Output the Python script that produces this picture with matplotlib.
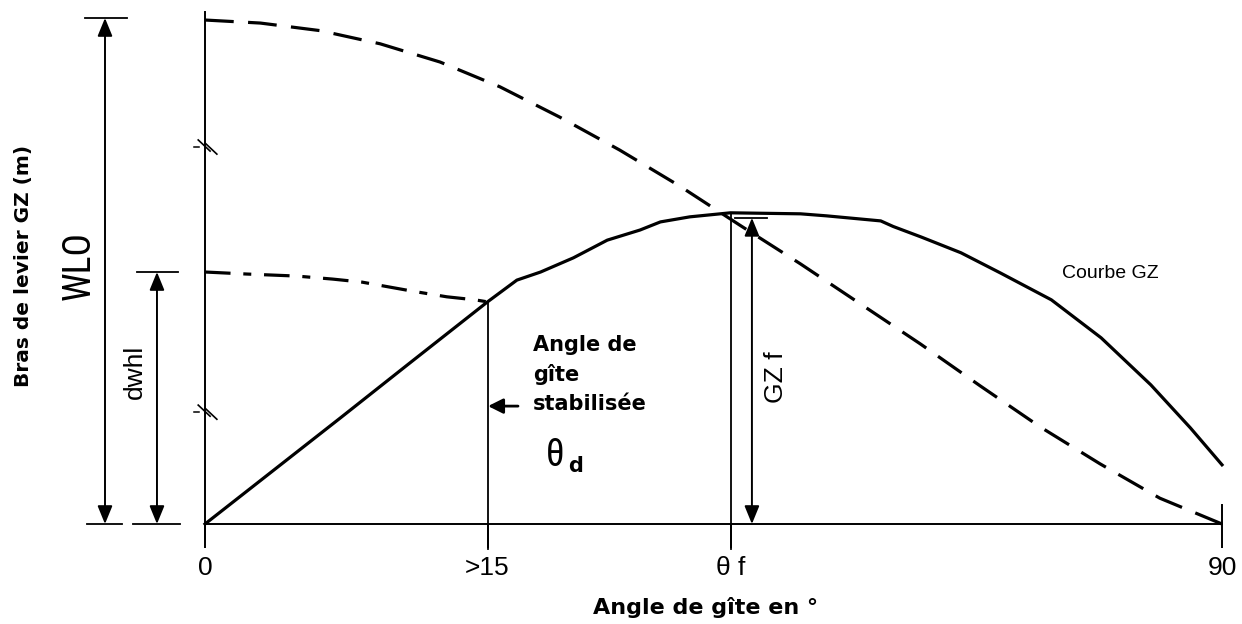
import matplotlib
matplotlib.use("Agg")
import matplotlib.pyplot as plt
from matplotlib import font_manager

# ---------------- data ----------------
# GZ righting-lever curve (angle in degrees, lever in units of WLO)
gz_angle = [0, 6.0, 12.0, 18.0, 25.0, 27.6, 29.7, 32.6, 35.6, 38.5, 40.3,
            42.9, 46.5, 52.7, 55.0, 59.8, 60.9, 63.4, 66.9, 70.4, 74.9, 79.3,
            83.7, 87.2, 90.0]
gz_value = [0, 0.105, 0.210, 0.316, 0.439, 0.482, 0.498, 0.526, 0.561,
            0.581, 0.597, 0.607, 0.615, 0.613, 0.609, 0.599, 0.588, 0.567,
            0.536, 0.496, 0.443, 0.368, 0.275, 0.190, 0.117]

# Wind lever (WLO) dashed curve
wlo_angle = [0, 4.9, 10.2, 15.5, 20.8, 26.1, 31.4, 36.7, 42.0, 47.3, 52.7,
             58.0, 63.3, 68.6, 73.9, 79.2, 84.5, 90.0]
wlo_value = [0.996, 0.990, 0.975, 0.949, 0.913, 0.864, 0.804, 0.739, 0.668,
             0.591, 0.514, 0.435, 0.356, 0.273, 0.192, 0.119, 0.051, 0.0]

# Steady wind lever (dwhl) dash-dot curve
dwhl_angle = [0, 3.7, 8.1, 11.3, 13.9, 18.4, 21.4, 23.9, 25.0]
dwhl_value = [0.498, 0.494, 0.490, 0.484, 0.478, 0.460, 0.449, 0.443, 0.439]

theta_d = 25.0
theta_f = 46.55
gz_f = 0.615
wlo_level = 1.0
dwhl_level = 0.498

tick_pos = [0, theta_d, theta_f, 90]
tick_labels = ["0", ">15", "θ f", "90"]

# ---------------- fonts ----------------
names = {f.name for f in font_manager.fontManager.ttflist}


def pick(cands, default):
    for c in cands:
        if c in names:
            return c
    return default


NARROW = pick(["Liberation Sans Narrow", "Roboto Condensed", "Open Sans Condensed"], None)
REG = "Liberation Sans"
if NARROW is None:
    NARROW, NARROW_SCALE = REG, 0.82
else:
    NARROW_SCALE = 1.0
BOLD = "DejaVu Sans"

W, H = 1242, 624
fig = plt.figure(figsize=(W / 100, H / 100), dpi=100)

# axes placed so that x 0..90 -> px 205..1222, y 0..1 -> px 524..18
ylo, yhi = -0.03, 1.02
ppu = 506.0
bot_px = 524 + (-ylo) * ppu
top_px = 18 - (yhi - 1) * ppu
ax = fig.add_axes([205 / W, (H - bot_px) / H, 1017 / W, (bot_px - top_px) / H])
ax.set_xlim(0, 90)
ax.set_ylim(ylo, yhi)

for s in ("top", "right"):
    ax.spines[s].set_visible(False)
ax.spines["bottom"].set_position(("data", 0))
ax.spines["bottom"].set_bounds(0, 90)
ax.spines["left"].set_bounds(-0.03, 1.012)
ax.spines["left"].set_linewidth(1.4)
ax.spines["bottom"].set_linewidth(1.4)
ax.set_yticks([])
ax.set_xticks(tick_pos)
ax.set_xticklabels(tick_labels, family=REG, fontsize=19)
ax.tick_params(axis="x", direction="out", length=17, width=1.4, pad=6)
# the 90 tick crosses the axis
ax.plot([90, 90], [0, 0.037], color="black", lw=1.4, clip_on=False)

# curves
ax.plot(gz_angle, gz_value, color="black", lw=2.3, clip_on=False,
        solid_joinstyle="round")
ax.plot(wlo_angle, wlo_value, color="black", lw=2.3, linestyle=(0, (9, 4.5)),
        clip_on=False)
ax.plot(dwhl_angle, dwhl_value, color="black", lw=2.3,
        linestyle=(0, (8, 4, 2.5, 4)), clip_on=False)

# vertical reference lines
ax.plot([theta_d, theta_d], [-0.049, dwhl_value[-1]], color="black", lw=1.3, clip_on=False)
ax.plot([theta_f, theta_f], [-0.049, gz_f], color="black", lw=1.3, clip_on=False)

arrow_style = dict(arrowstyle="<|-|>,head_length=1.1,head_width=0.45",
                   color="black", lw=1.4, shrinkA=0, shrinkB=0)

# WLO dimension
ax.annotate("", xy=(-8.85, wlo_level), xytext=(-8.85, 0), arrowprops=arrow_style,
            annotation_clip=False)
ax.plot([-10.6, -6.9], [wlo_level, wlo_level], color="black", lw=1.3, clip_on=False)
ax.plot([-10.45, -7.35], [0, 0], color="black", lw=1.3, clip_on=False)
ax.text(-11.1, 0.51, "WLO", family=NARROW, fontsize=27 * NARROW_SCALE,
        rotation=90, ha="center", va="center")

# dwhl dimension
ax.annotate("", xy=(-4.25, dwhl_level), xytext=(-4.25, 0), arrowprops=arrow_style,
            annotation_clip=False)
ax.plot([-6.0, -2.4], [dwhl_level, dwhl_level], color="black", lw=1.3, clip_on=False)
ax.plot([-6.35, -2.2], [0, 0], color="black", lw=1.3, clip_on=False)
ax.text(-6.2, 0.30, "dwhl", family=REG, fontsize=19, rotation=90,
        ha="center", va="center")

# GZ f dimension
ax.annotate("", xy=(48.4, 0.605), xytext=(48.4, 0), arrowprops=arrow_style,
            annotation_clip=False)
ax.plot([46.9, 49.7], [0.605, 0.605], color="black", lw=1.3, clip_on=False)
ax.text(50.5, 0.29, "GZ f", family=REG, fontsize=19, rotation=90,
        ha="center", va="center")

# axis break marks (two parallel slashes across the axis)
for yb in (0.745, 0.221):
    ax.plot([-0.6, 0.45], [yb + 0.014, yb - 0.008], color="black", lw=1.2, clip_on=False)
    ax.plot([0.0, 1.05], [yb + 0.008, yb - 0.014], color="black", lw=1.2, clip_on=False)
    ax.plot([-1.0, -0.5], [yb, yb], color="black", lw=1.1, clip_on=False)

# stabilised angle label
ax.annotate("", xy=(theta_d + 0.05, 0.233), xytext=(27.7, 0.233),
            arrowprops=dict(arrowstyle="-|>,head_length=0.9,head_width=0.45",
                            color="black", lw=2.0, shrinkA=0, shrinkB=0))
ax.text(29.0, 0.374, "Angle de\ngîte\nstabilisée", family=BOLD, fontweight="bold",
        fontsize=15, ha="left", va="top", linespacing=1.55)
ax.text(31.0, 0.136, "θ", family=NARROW, fontsize=27 * NARROW_SCALE,
        ha="center", va="center")
ax.text(32.1, 0.115, "d", family=BOLD, fontweight="bold", fontsize=15,
        ha="left", va="center")

ax.text(80.1, 0.496, "Courbe GZ", family=REG, fontsize=14,
        ha="center", va="center")

# axis titles
fig.text(706 / W, 1 - 607 / H, "Angle de gîte en °", family=BOLD, fontweight="bold",
         fontsize=16, ha="center", va="center")
fig.text(24 / W, 1 - 266 / H, "Bras de levier GZ (m)", family=BOLD, fontweight="bold",
         fontsize=14.5, ha="center", va="center", rotation=90)

fig.savefig("out.png", dpi=100)
